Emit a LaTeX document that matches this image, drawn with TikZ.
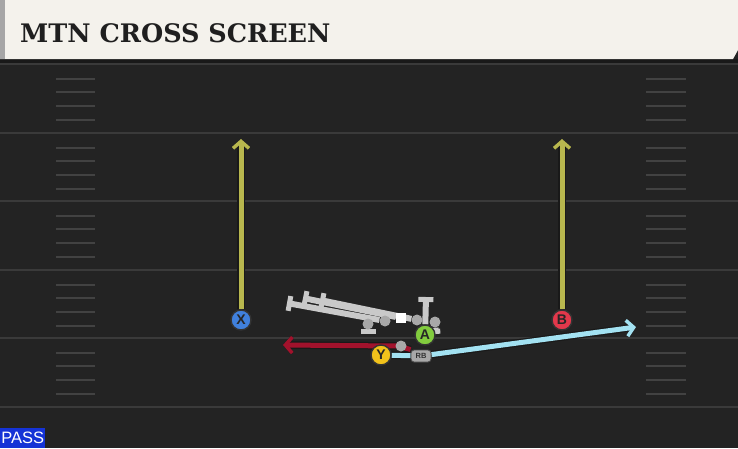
\documentclass[tikz,border=0pt]{standalone}
\usepackage{fontspec}
\setmainfont{Liberation Sans}
\newfontfamily\titlefont{DejaVu Serif}
\usetikzlibrary{arrows.meta}

\definecolor{field}{HTML}{232323}
\definecolor{yardline}{HTML}{3A3A3A}
\definecolor{hashgray}{HTML}{424242}
\definecolor{header}{HTML}{F4F2EC}
\definecolor{routeyellow}{HTML}{B8B74E}
\definecolor{routered}{HTML}{A2122C}
\definecolor{routeblue}{HTML}{A3E2F2}
\definecolor{sled}{HTML}{C9C9C9}
\definecolor{olgray}{HTML}{A8A8A8}
\definecolor{xblue}{HTML}{4080DC}
\definecolor{bred}{HTML}{E2384B}
\definecolor{agreen}{HTML}{82CC3E}
\definecolor{yyellow}{HTML}{F1C21B}
\definecolor{passblue}{HTML}{1533D6}

\pgfdeclarelayer{turf}
\pgfdeclarelayer{routes}
\pgfsetlayers{turf,routes,main}

\tikzset{
  player/.style={circle, draw=black!80, line width=1.4pt, minimum size=20pt,
    inner sep=0pt, text=black!85, font=\bfseries\fontsize{14}{14}\selectfont},
  route/.style={line width=5pt, line cap=butt,
    preaction={draw=black!90, line width=7.5pt}},
  tip/.style={-{Straight Barb[length=7pt,width=16pt,line width=3.5pt]}},
  ol/.style={circle, fill=olgray, minimum size=11pt, inner sep=0pt},
  block/.style={draw=sled, line width=6pt, -{Bar[width=15pt,line width=5pt]}},
}

\begin{document}
\begin{tikzpicture}[x=1pt,y=-1pt]

 \useasboundingbox (0,0) rectangle (738,448);

 \begin{pgfonlayer}{turf}
 \fill[field] (0,0) rectangle (738,448);

 % yard lines and hashes
 \foreach \yl in {64,133,201,270,338,407}
   \draw[yardline, line width=2pt] (0,\yl) -- (738,\yl);
 \foreach \yl in {64,133,201,270,338}
   \foreach \dy in {14.5,28,41.5,55.5} {
     \draw[hashgray, line width=2pt] (56,\yl+\dy) -- (95,\yl+\dy);
     \draw[hashgray, line width=2pt] (646,\yl+\dy) -- (686,\yl+\dy);
   }

 % header
 \fill[black!90] (0,59) rectangle (738,63);
 \fill[header] (0,0) -- (738,0) -- (738,50) -- (733,59) -- (0,59) -- cycle;
 \fill[black!35] (0,0) rectangle (5,59);
 \end{pgfonlayer}

 \node[anchor=west, text=black!88, inner sep=0pt,
   font=\titlefont\bfseries\fontsize{25.5}{25.5}\selectfont] (title) at (20,33) {MTN CROSS SCREEN};

 % pass tag
 \node[fill=passblue, text=white, anchor=south west, inner sep=0pt,
   minimum width=45pt, minimum height=20pt,
   font=\fontsize{16.5}{16.5}\selectfont] (pass) at (0,448) {PASS};

 % line
 \node[ol] (o2) at (368,324) {};
 \node[ol] (o1) at (385,321) {};
 \node[ol] (o3) at (417,320) {};
 \node[ol] (o4) at (435,322) {};
 \node[ol] (o5) at (401,346) {};
 \node[fill=white, minimum size=10pt, inner sep=0pt] (c) at (401,318) {};

 \coordinate (t1) at (287,303);
 \coordinate (t2) at (303,298);
 \coordinate (t3) at (320,300);
 \coordinate (t4) at (368,334);
 \coordinate (t5) at (426,297);
 \coordinate (t6) at (436,334);

 % players
 \node[player, fill=xblue] (x) at (241,320) {X};
 \node[player, fill=bred] (b) at (562,320) {B};
 \node[player, fill=agreen] (a) at (425,335) {A};
 \node[player, fill=yyellow] (y) at (381,355) {Y};
 \node[rounded corners=3pt, fill=olgray, draw=black!70, line width=0.9pt,
   minimum width=20pt, minimum height=12pt, inner sep=0pt, text=black!80,
   font=\bfseries\fontsize{7.5}{7.5}\selectfont] (rb) at (421,356) {RB};

 \coordinate (xe) at (241,139);
 \coordinate (be) at (562,139);
 \coordinate (ye) at (636,327);
 \coordinate (rk) at (398,346);
 \coordinate (re) at (283,345);

 % blocks
 \begin{pgfonlayer}{routes}
 \draw[block] (o1) -- (t1);
 \draw[block] (c) -- (t2);
 \draw[block] (o3) -- (t3);
 \draw[block] (o2) -- (t4);
 \draw[block] (a) -- (t5);
 \draw[block, -{Bar[width=9pt,line width=5pt]}] (o4) -- (t6);

 % routes
 \draw[route, routeyellow, tip] (x) -- (xe);
 \draw[route, routeyellow, tip] (b) -- (be);
 \draw[route, routered, tip] (rb.north west) -- (rk) -- (re);
 \draw[route, routeblue] (y) -- (rb);
 \draw[route, routeblue, tip] (rb) -- (ye);
 \end{pgfonlayer}

\end{tikzpicture}
\end{document}
